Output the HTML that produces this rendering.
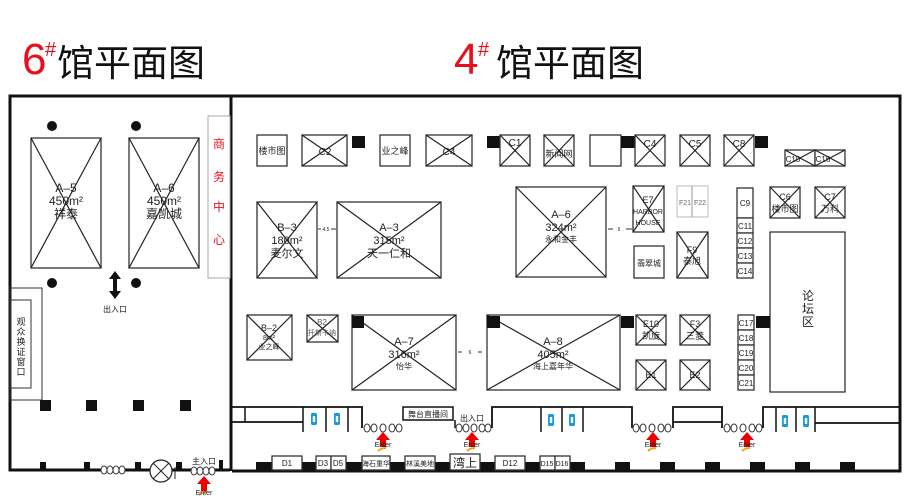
<!DOCTYPE html>
<html><head><meta charset="utf-8"><style>
html,body{margin:0;padding:0;background:#fff;}
svg{display:block;}
text{font-family:"Liberation Sans","Noto Sans CJK SC",sans-serif;fill:#222;}
.x rect,.b{fill:#fff;stroke:#333;stroke-width:1.3;}
.x line{stroke:#222;stroke-width:1.2;}
.w{stroke:#111;stroke-width:3;fill:none;}
.t{stroke:#111;stroke-width:1.8;fill:none;}
.k{fill:#111;}
.chain{fill:#fff;stroke:#333;stroke-width:1;}
</style></head><body>
<svg width="910" height="500" viewBox="0 0 910 500" xmlns="http://www.w3.org/2000/svg">
<defs>
<g id="arrow"><polygon points="0,-7 -7,1 -3,1 -3,8 3,8 3,1 7,1" fill="#e00"/><path d="M-5,12 q3,-3 8,-3" stroke="#f7a020" stroke-width="2" fill="none"/></g>
<g id="lk"><ellipse cx="0" cy="0" rx="3" ry="4" class="chain"/></g>
<g id="wc"><rect x="-3" y="-6" width="6" height="12" rx="1.5" fill="#1a9ad8"/><rect x="-1.2" y="-3" width="2.4" height="6" fill="#fff"/></g>
</defs>

<!-- titles -->
<text x="22" y="74" font-size="44" style="fill:#e8101a">6</text>
<text x="45" y="56" font-size="20" style="fill:#e8101a">#</text>
<text x="57" y="76" font-size="37" style="fill:#111" font-family="Noto Sans CJK SC">馆平面图</text>
<text x="454" y="74" font-size="44" style="fill:#e8101a">4</text>
<text x="478" y="56" font-size="20" style="fill:#e8101a">#</text>
<text x="496" y="76" font-size="37" style="fill:#111" font-family="Noto Sans CJK SC">馆平面图</text>

<!-- outer walls -->
<path class="w" d="M230,470 L10,470 L10,96 L900,96 L900,471 L232,471"/>
<line class="w" x1="231" y1="96" x2="231" y2="471"/>

<!-- 6# hall -->
<circle cx="52" cy="126" r="5" class="k"/><circle cx="136" cy="126" r="5" class="k"/>
<circle cx="52" cy="283" r="5" class="k"/><circle cx="136" cy="283" r="5" class="k"/>
<g class="x"><rect x="31" y="138" width="70" height="130"/><line x1="31" y1="138" x2="101" y2="268"/><line x1="101" y1="138" x2="31" y2="268"/></g>
<text x="66" y="192" font-size="12" text-anchor="middle">A–5</text><text x="66" y="205" font-size="12" text-anchor="middle">450m²</text><text x="66" y="218" font-size="12" text-anchor="middle">祥泰</text>
<g class="x"><rect x="129" y="138" width="70" height="130"/><line x1="129" y1="138" x2="199" y2="268"/><line x1="199" y1="138" x2="129" y2="268"/></g>
<text x="164" y="192" font-size="12" text-anchor="middle">A–6</text><text x="164" y="205" font-size="12" text-anchor="middle">450m²</text><text x="164" y="218" font-size="12" text-anchor="middle">嘉凯城</text>
<rect x="208" y="116" width="22" height="162" fill="#fff" stroke="#aaa" stroke-width="1"/>
<text font-size="12" text-anchor="middle" style="fill:#e8101a"><tspan x="219" y="148">商</tspan><tspan x="219" y="181">务</tspan><tspan x="219" y="211">中</tspan><tspan x="219" y="244">心</tspan></text>
<polygon points="115,271 109,279 113,279 113,291 109,291 115,299 121,291 117,291 117,279 121,279" class="k"/>
<text x="115" y="312" font-size="8" text-anchor="middle">出入口</text>
<rect x="10" y="288" width="32" height="112" fill="none" stroke="#333" stroke-width="1"/>
<rect x="11" y="300" width="20" height="88" fill="none" stroke="#333" stroke-width="1"/>
<text font-size="9" text-anchor="middle"><tspan x="21" y="325">观</tspan><tspan x="21" y="335">众</tspan><tspan x="21" y="345">换</tspan><tspan x="21" y="355">证</tspan><tspan x="21" y="365">窗</tspan><tspan x="21" y="375">口</tspan></text>
<rect x="40" y="400" width="11" height="11" class="k"/><rect x="86" y="400" width="11" height="11" class="k"/><rect x="133" y="400" width="11" height="11" class="k"/><rect x="180" y="400" width="11" height="11" class="k"/>
<!-- 6# bottom -->
<rect x="40" y="462" width="6" height="8" class="k"/><rect x="84" y="462" width="6" height="8" class="k"/><rect x="135" y="462" width="6" height="8" class="k"/><rect x="176" y="462" width="6" height="8" class="k"/><rect x="219" y="460" width="4" height="10" class="k"/>
<g><use href="#lk" x="104" y="470"/><use href="#lk" x="110" y="470"/><use href="#lk" x="116" y="470"/><use href="#lk" x="122" y="470"/></g>
<circle cx="161" cy="471" r="11" fill="#fff" stroke="#222" stroke-width="1.2"/><line x1="153" y1="463" x2="169" y2="479" stroke="#222"/><line x1="169" y1="463" x2="153" y2="479" stroke="#222"/>
<line x1="175" y1="467" x2="175" y2="479" stroke="#222"/>
<g><use href="#lk" x="194" y="471"/><use href="#lk" x="200" y="471"/><use href="#lk" x="206" y="471"/><use href="#lk" x="212" y="471"/></g>
<text x="204" y="464" font-size="8" text-anchor="middle">主入口</text>
<use href="#arrow" x="204" y="483"/><text x="204" y="495" font-size="7" text-anchor="middle">Enter</text>

<!-- 4# top row -->
<rect class="b" x="257" y="135" width="30" height="31"/><text x="272" y="154" font-size="9" text-anchor="middle">楼市图</text>
<g class="x"><rect x="302" y="135" width="45" height="31"/><line x1="302" y1="135" x2="347" y2="166"/><line x1="347" y1="135" x2="302" y2="166"/></g><text x="325" y="155" font-size="10" text-anchor="middle">C2</text>
<rect x="352" y="136" width="13" height="12" class="k"/>
<rect class="b" x="380" y="135" width="30" height="31"/><text x="395" y="154" font-size="9" text-anchor="middle">业之峰</text>
<g class="x"><rect x="426" y="135" width="46" height="31"/><line x1="426" y1="135" x2="472" y2="166"/><line x1="472" y1="135" x2="426" y2="166"/></g><text x="449" y="155" font-size="10" text-anchor="middle">C4</text>
<rect x="487" y="136" width="13" height="12" class="k"/>
<g class="x"><rect x="500" y="135" width="30" height="31"/><line x1="500" y1="135" x2="530" y2="166"/><line x1="530" y1="135" x2="500" y2="166"/></g><text x="515" y="146" font-size="10" text-anchor="middle">C1</text>
<g class="x"><rect x="544" y="135" width="30" height="31"/><line x1="544" y1="135" x2="574" y2="166"/><line x1="574" y1="135" x2="544" y2="166"/></g><text x="559" y="157" font-size="9" text-anchor="middle">新闻网</text>
<rect class="b" x="590" y="135" width="31" height="31"/>
<rect x="621" y="136" width="14" height="12" class="k"/>
<g class="x"><rect x="635" y="135" width="30" height="31"/><line x1="635" y1="135" x2="665" y2="166"/><line x1="665" y1="135" x2="635" y2="166"/></g><text x="650" y="147" font-size="10" text-anchor="middle">C4</text>
<g class="x"><rect x="680" y="135" width="30" height="31"/><line x1="680" y1="135" x2="710" y2="166"/><line x1="710" y1="135" x2="680" y2="166"/></g><text x="695" y="147" font-size="10" text-anchor="middle">C5</text>
<g class="x"><rect x="724" y="135" width="30" height="31"/><line x1="724" y1="135" x2="754" y2="166"/><line x1="754" y1="135" x2="724" y2="166"/></g><text x="739" y="147" font-size="10" text-anchor="middle">C8</text>
<rect x="755" y="136" width="13" height="12" class="k"/>
<g class="x"><rect x="785" y="150" width="30" height="16"/><line x1="785" y1="150" x2="815" y2="166"/><line x1="815" y1="150" x2="785" y2="166"/></g><text x="793" y="162" font-size="8" text-anchor="middle">C10</text>
<g class="x"><rect x="815" y="150" width="30" height="16"/><line x1="815" y1="150" x2="845" y2="166"/><line x1="845" y1="150" x2="815" y2="166"/></g><text x="823" y="162" font-size="8" text-anchor="middle">C16</text>

<!-- middle row -->
<g class="x"><rect x="257" y="202" width="60" height="76"/><line x1="257" y1="202" x2="317" y2="278"/><line x1="317" y1="202" x2="257" y2="278"/></g>
<text x="287" y="231" font-size="11" text-anchor="middle">B–3</text><text x="287" y="244" font-size="11" text-anchor="middle">180m²</text><text x="287" y="257" font-size="11" text-anchor="middle">麦尔文</text>
<text x="326" y="231" font-size="5" text-anchor="middle">4.5</text><line x1="318" y1="229" x2="321" y2="229" stroke="#333"/><line x1="331" y1="229" x2="336" y2="229" stroke="#333"/>
<g class="x"><rect x="337" y="202" width="104" height="76"/><line x1="337" y1="202" x2="441" y2="278"/><line x1="441" y1="202" x2="337" y2="278"/></g>
<text x="389" y="231" font-size="11" text-anchor="middle">A–3</text><text x="389" y="244" font-size="11" text-anchor="middle">315m²</text><text x="389" y="257" font-size="11" text-anchor="middle">天一仁和</text>
<g class="x"><rect x="516" y="187" width="90" height="90"/><line x1="516" y1="187" x2="606" y2="277"/><line x1="606" y1="187" x2="516" y2="277"/></g>
<text x="561" y="218" font-size="11" text-anchor="middle">A–6</text><text x="561" y="231" font-size="11" text-anchor="middle">324m²</text><text x="561" y="242" font-size="8" text-anchor="middle">永和金丰</text>
<text x="619" y="231" font-size="5" text-anchor="middle">6</text><line x1="608" y1="229" x2="613" y2="229" stroke="#333"/><line x1="626" y1="229" x2="632" y2="229" stroke="#333"/>
<g class="x"><rect x="633" y="186" width="31" height="46"/><line x1="633" y1="186" x2="664" y2="232"/><line x1="664" y1="186" x2="633" y2="232"/></g>
<text x="648" y="203" font-size="9" text-anchor="middle">E7</text><text x="648" y="214" font-size="7" text-anchor="middle">HARBOR</text><text x="648" y="225" font-size="7" text-anchor="middle">HOUSE</text>
<rect x="677" y="186" width="31" height="31" fill="#fff" stroke="#bbb"/><line x1="692" y1="186" x2="692" y2="217" stroke="#999"/>
<text x="685" y="205" font-size="7" text-anchor="middle" style="fill:#666">F21</text><text x="700" y="205" font-size="7" text-anchor="middle" style="fill:#666">F22</text>
<rect class="b" x="634" y="246" width="30" height="32"/><text x="649" y="266" font-size="8" text-anchor="middle">翡翠城</text>
<g class="x"><rect x="677" y="232" width="31" height="46"/><line x1="677" y1="232" x2="708" y2="278"/><line x1="708" y1="232" x2="677" y2="278"/></g>
<text x="692" y="253" font-size="9" text-anchor="middle">F9</text><text x="692" y="264" font-size="9" text-anchor="middle">泰旭</text>
<g font-size="8" text-anchor="middle">
<rect class="b" x="737" y="188" width="16" height="30"/><text x="745" y="206">C9</text>
<rect class="b" x="737" y="218" width="16" height="15"/><text x="745" y="229">C11</text>
<rect class="b" x="737" y="233" width="16" height="15"/><text x="745" y="244">C12</text>
<rect class="b" x="737" y="248" width="16" height="15"/><text x="745" y="259">C13</text>
<rect class="b" x="737" y="263" width="16" height="15"/><text x="745" y="274">C14</text>
<rect class="b" x="738" y="315" width="16" height="15"/><text x="746" y="326">C17</text>
<rect class="b" x="738" y="330" width="16" height="15"/><text x="746" y="341">C18</text>
<rect class="b" x="738" y="345" width="16" height="15"/><text x="746" y="356">C19</text>
<rect class="b" x="738" y="360" width="16" height="15"/><text x="746" y="371">C20</text>
<rect class="b" x="738" y="375" width="16" height="15"/><text x="746" y="386">C21</text>
</g>
<g class="x"><rect x="770" y="187" width="30" height="31"/><line x1="770" y1="187" x2="800" y2="218"/><line x1="800" y1="187" x2="770" y2="218"/></g>
<text x="785" y="200" font-size="9" text-anchor="middle">C6</text><text x="785" y="212" font-size="9" text-anchor="middle">楼市图</text>
<g class="x"><rect x="815" y="187" width="30" height="31"/><line x1="815" y1="187" x2="845" y2="218"/><line x1="845" y1="187" x2="815" y2="218"/></g>
<text x="830" y="200" font-size="9" text-anchor="middle">C7</text><text x="830" y="212" font-size="9" text-anchor="middle">万科</text>
<rect class="b" x="770" y="232" width="75" height="160"/>
<text font-size="12" text-anchor="middle"><tspan x="808" y="300">论</tspan><tspan x="808" y="313">坛</tspan><tspan x="808" y="326">区</tspan></text>
<rect x="756" y="316" width="14" height="12" class="k"/>

<!-- lower row -->
<g class="x"><rect x="247" y="315" width="45" height="45"/><line x1="247" y1="315" x2="292" y2="360"/><line x1="292" y1="315" x2="247" y2="360"/></g>
<text x="269" y="331" font-size="9" text-anchor="middle">B–2</text><text x="269" y="340" font-size="7" text-anchor="middle">8m²</text><text x="269" y="349" font-size="7" text-anchor="middle">业之峰</text>
<g class="x"><rect x="307" y="315" width="31" height="27"/><line x1="307" y1="315" x2="338" y2="342"/><line x1="338" y1="315" x2="307" y2="342"/></g>
<text x="322" y="325" font-size="8" text-anchor="middle" style="fill:#555">B2</text><text x="322" y="335" font-size="7" text-anchor="middle" style="fill:#555">托斯卡纳</text>
<g class="x"><rect x="352" y="315" width="104" height="75"/><line x1="352" y1="315" x2="456" y2="390"/><line x1="456" y1="315" x2="352" y2="390"/></g>
<rect x="352" y="316" width="12" height="12" class="k"/>
<text x="404" y="345" font-size="11" text-anchor="middle">A–7</text><text x="404" y="358" font-size="11" text-anchor="middle">316m²</text><text x="404" y="369" font-size="8" text-anchor="middle">怡华</text>
<text x="470" y="354" font-size="5" text-anchor="middle">6</text><line x1="458" y1="352" x2="462" y2="352" stroke="#333"/><line x1="478" y1="352" x2="482" y2="352" stroke="#333"/>
<g class="x"><rect x="487" y="315" width="133" height="75"/><line x1="487" y1="315" x2="620" y2="390"/><line x1="620" y1="315" x2="487" y2="390"/></g>
<rect x="487" y="316" width="13" height="12" class="k"/><rect x="621" y="316" width="13" height="12" class="k"/>
<text x="553" y="345" font-size="11" text-anchor="middle">A–8</text><text x="553" y="358" font-size="11" text-anchor="middle">405m²</text><text x="553" y="369" font-size="8" text-anchor="middle">海上嘉年华</text>
<g class="x"><rect x="636" y="315" width="30" height="30"/><line x1="636" y1="315" x2="666" y2="345"/><line x1="666" y1="315" x2="636" y2="345"/></g>
<text x="651" y="327" font-size="9" text-anchor="middle">E10</text><text x="651" y="339" font-size="9" text-anchor="middle">凯旋</text>
<g class="x"><rect x="680" y="315" width="30" height="30"/><line x1="680" y1="315" x2="710" y2="345"/><line x1="710" y1="315" x2="680" y2="345"/></g>
<text x="695" y="327" font-size="9" text-anchor="middle">F3</text><text x="695" y="339" font-size="9" text-anchor="middle">三菱</text>
<g class="x"><rect x="636" y="360" width="30" height="30"/><line x1="636" y1="360" x2="666" y2="390"/><line x1="666" y1="360" x2="636" y2="390"/></g><text x="651" y="378" font-size="9" text-anchor="middle">E1</text>
<g class="x"><rect x="680" y="360" width="30" height="30"/><line x1="680" y1="360" x2="710" y2="390"/><line x1="710" y1="360" x2="680" y2="390"/></g><text x="695" y="378" font-size="9" text-anchor="middle">E2</text>

<!-- 4# corridor -->
<path class="t" d="M232,407 H362 V428"/>
<path class="t" d="M232,422 H303"/>
<line x1="245" y1="407" x2="245" y2="422" stroke="#111" stroke-width="1.5"/>
<g stroke="#111" stroke-width="1.5"><line x1="303" y1="407" x2="303" y2="432"/><line x1="326" y1="407" x2="326" y2="432"/><line x1="348" y1="407" x2="348" y2="432"/></g>
<use href="#wc" x="314" y="419"/><use href="#wc" x="337" y="419"/>
<g><use href="#lk" x="367" y="428"/><use href="#lk" x="374" y="428"/><use href="#lk" x="383" y="428"/><use href="#lk" x="392" y="428"/><use href="#lk" x="399" y="428"/></g>
<use href="#arrow" x="383" y="439"/><text x="383" y="447" font-size="7" text-anchor="middle">Enter</text>
<rect x="403" y="407" width="50" height="13" fill="#fff" stroke="#111" stroke-width="1.5"/><text x="428" y="417" font-size="8" text-anchor="middle">舞台直播间</text>
<line x1="455" y1="420" x2="455" y2="428" stroke="#111" stroke-width="1.5"/>
<text x="472" y="421" font-size="8" text-anchor="middle">出入口</text>
<g><use href="#lk" x="459" y="428"/><use href="#lk" x="466" y="428"/><use href="#lk" x="474" y="428"/><use href="#lk" x="482" y="428"/><use href="#lk" x="488" y="428"/></g>
<use href="#arrow" x="472" y="439"/><text x="472" y="447" font-size="7" text-anchor="middle">Enter</text>
<path class="t" d="M492,428 V407 H632 V428"/>
<g stroke="#111" stroke-width="1.5"><line x1="541" y1="407" x2="541" y2="432"/><line x1="562" y1="407" x2="562" y2="432"/><line x1="583" y1="407" x2="583" y2="432"/></g>
<use href="#wc" x="551" y="420"/><use href="#wc" x="572" y="420"/>
<g><use href="#lk" x="636" y="428"/><use href="#lk" x="643" y="428"/><use href="#lk" x="652" y="428"/><use href="#lk" x="661" y="428"/><use href="#lk" x="668" y="428"/></g>
<use href="#arrow" x="653" y="439"/><text x="653" y="447" font-size="7" text-anchor="middle">Enter</text>
<path class="t" d="M673,428 V407 H722 V428 M673,422 H722"/>
<g><use href="#lk" x="727" y="428"/><use href="#lk" x="734" y="428"/><use href="#lk" x="743" y="428"/><use href="#lk" x="752" y="428"/><use href="#lk" x="759" y="428"/></g>
<use href="#arrow" x="747" y="439"/><text x="747" y="447" font-size="7" text-anchor="middle">Enter</text>
<path class="t" d="M763,428 V407 H900 M815,423 H900"/>
<g stroke="#111" stroke-width="1.5"><line x1="776" y1="407" x2="776" y2="432"/><line x1="796" y1="407" x2="796" y2="432"/><line x1="815" y1="407" x2="815" y2="432"/></g>
<use href="#wc" x="785" y="421"/><use href="#wc" x="806" y="421"/>

<!-- 4# bottom stalls -->
<g class="k">
<rect x="256" y="462" width="16" height="8"/><rect x="302" y="462" width="14" height="8"/><rect x="346" y="462" width="16" height="8"/><rect x="390" y="462" width="15" height="8"/><rect x="435" y="462" width="15" height="8"/><rect x="480" y="462" width="15" height="8"/><rect x="525" y="462" width="15" height="8"/><rect x="570" y="462" width="15" height="8"/>
<rect x="615" y="462" width="15" height="8"/><rect x="660" y="462" width="15" height="8"/><rect x="705" y="462" width="15" height="8"/><rect x="750" y="462" width="15" height="8"/><rect x="795" y="462" width="15" height="8"/><rect x="840" y="462" width="15" height="8"/>
</g>
<g font-size="8" text-anchor="middle">
<rect class="b" x="272" y="456" width="30" height="14"/><text x="287" y="466">D1</text>
<rect class="b" x="316" y="456" width="15" height="14"/><text x="323" y="466">D3</text>
<rect class="b" x="331" y="456" width="15" height="14"/><text x="338" y="466">D5</text>
<rect class="b" x="362" y="456" width="28" height="14"/><text x="376" y="466" font-size="7">海石重华</text>
<rect class="b" x="405" y="456" width="30" height="14"/><text x="420" y="466" font-size="7">林溪美地</text>
<rect class="b" x="450" y="454" width="30" height="16"/><text x="465" y="467" font-size="12">湾上</text>
<rect class="b" x="495" y="456" width="30" height="14"/><text x="510" y="466">D12</text>
<rect class="b" x="540" y="456" width="15" height="14"/><text x="547" y="466" font-size="7">D15</text>
<rect class="b" x="555" y="456" width="15" height="14"/><text x="562" y="466" font-size="7">D16</text>
</g>
</svg>
</body></html>
